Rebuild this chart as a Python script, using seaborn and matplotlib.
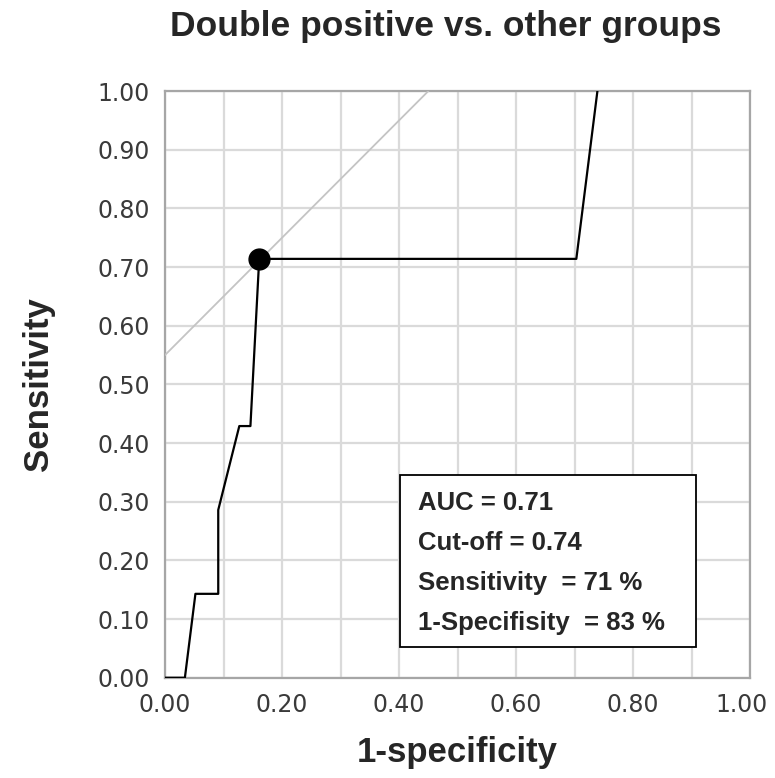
import matplotlib
matplotlib.use("Agg")
import matplotlib.pyplot as plt
import matplotlib.transforms as mtransforms
import seaborn as sns
import numpy as np
import pandas as pd
from matplotlib.ticker import MultipleLocator, FuncFormatter
from matplotlib.patches import Rectangle

# --- ROC verisi ---
fpr = [0.0, 0.034, 0.052, 0.091, 0.091, 0.127, 0.146, 0.161, 0.703, 0.739]
tpr = [0.0, 0.0, 0.143, 0.143, 0.286, 0.429, 0.429, 0.714, 0.714, 1.0]

# cut-off noktasi ve teget cizgi
cut_x = [0.161]
cut_y = [0.714]
tangent_x = [0.0, 0.45]
tangent_y = [0.55, 1.0]

info_lines = ["AUC = 0.71", "Cut-off = 0.74", "Sensitivity  = 71 %", "1-Specifisity  = 83 %"]

sns.set_style("white")
plt.rcParams['font.family'] = ['DejaVu Sans']

fig = plt.figure(figsize=(7.75, 7.78), dpi=100)
ax = fig.add_axes([0.2129, 0.1289, 0.755, 0.754])

df = pd.DataFrame({"fpr": fpr, "tpr": tpr})
sns.lineplot(data=df, x="fpr", y="tpr", sort=False, estimator=None,
             color="black", linewidth=1.6, ax=ax, zorder=4)
sns.lineplot(x=tangent_x, y=tangent_y, color="#c4c4c4", linewidth=1.3, ax=ax, zorder=3)
ax.plot(cut_x, cut_y, marker="o", markersize=15, color="black", zorder=5,
        linestyle="none")

ax.set_xlim(0, 1)
ax.set_ylim(0, 1)

# --- eksenler ---
ax.xaxis.set_major_locator(MultipleLocator(0.1))
ax.xaxis.set_minor_locator(MultipleLocator(0.05))
ax.yaxis.set_major_locator(MultipleLocator(0.1))
ax.yaxis.set_minor_locator(MultipleLocator(0.05))
ax.xaxis.set_major_formatter(FuncFormatter(
    lambda v, p: f"{v:.2f}" if round(v * 10) % 2 == 0 else ""))
ax.yaxis.set_major_formatter(FuncFormatter(lambda v, p: f"{v:.2f}"))

ax.grid(True, which="major", color="#dadada", linewidth=1.6)
ax.set_axisbelow(True)
for sp in ax.spines.values():
    sp.set_color("#a6a6a6")
    sp.set_linewidth(1.6)

ax.tick_params(which="major", direction="out", length=7, width=1.4,
               color="#a6a6a6", labelsize=17, labelcolor="#3a3a3a", pad=4)
ax.tick_params(which="minor", direction="out", length=3.5, width=1.2,
               color="#a6a6a6")

# "1.00" x etiketini biraz sola kaydir (kesilmesin)
fig.canvas.draw()
for lab in ax.get_xticklabels():
    if lab.get_text() == "1.00":
        lab.set_transform(lab.get_transform() +
                          mtransforms.ScaledTranslation(-9 / 100, 0, fig.dpi_scale_trans))

bold = dict(family=["Liberation Sans", "DejaVu Sans"], fontweight="bold")
ax.set_xlabel("1-specificity", fontsize=25, labelpad=14, **bold)
ax.set_ylabel("Sensitivity", fontsize=25, labelpad=30, **bold)
ax.set_title("Double positive vs. other groups", fontsize=25.5, pad=40,
             x=0.479, **bold)

# --- bilgi kutusu ---
ax.add_patch(Rectangle((0.402, 0.052), 0.506, 0.293, fill=True, facecolor="white",
                       edgecolor="black", linewidth=1.3, zorder=6))
for i, line in enumerate(info_lines):
    ax.text(0.432, 0.298 - i * 0.0683, line, fontsize=18.5, va="center",
            ha="left", zorder=7, **bold)

fig.savefig("out.png", dpi=100)
